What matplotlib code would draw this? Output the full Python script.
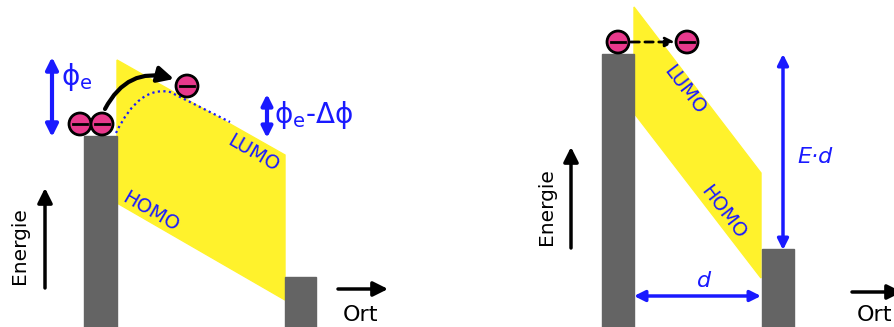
import matplotlib.pyplot as plt
import numpy as np
from matplotlib.patches import Rectangle, Polygon, Circle, FancyArrowPatch, PathPatch
from matplotlib.path import Path

plt.rcParams['mathtext.fontset'] = 'dejavusans'
plt.rcParams['mathtext.default'] = 'regular'

# farben
GRAU = '#646464'
GELB = '#fff22c'
PINK = '#e8398c'
BLAU = '#1a1aff'

# linkes bild (pixel-koordinaten, y nach unten)
links_metall = [84, 117, 136]        # x0, x1, oberkante
rechts_metall = [285, 316, 277]
band_links = [(117, 60), (285, 155), (285, 300), (117, 203)]
elektronen_links = [(80, 124), (102, 124), (187, 86)]

# rechtes bild
links_metall2 = [602, 634, 54]
rechts_metall2 = [762, 794, 249]
band_rechts = [(634, 7), (761, 173), (761, 278), (634, 113)]
elektronen_rechts = [(618, 42), (687, 42)]

fig = plt.figure(figsize=(8.95, 3.27), dpi=100)
ax = fig.add_axes([0, 0, 1, 1])
ax.set_xlim(0, 895)
ax.set_ylim(327, 0)
ax.axis('off')


def metall(m):
    ax.add_patch(Rectangle((m[0], m[2]), m[1] - m[0], 327 - m[2], color=GRAU, zorder=2))


def elektron(x, y, r=11):
    ax.add_patch(Circle((x, y), r, facecolor=PINK, edgecolor='black', lw=2, zorder=5))
    ax.plot([x - 0.6 * r, x + 0.6 * r], [y, y], color='black', lw=2, zorder=6)


def pfeil(p0, p1, farbe, stil='-|>', lw=2.5, ms=16, **kw):
    ax.add_patch(FancyArrowPatch(p0, p1, arrowstyle=stil, color=farbe, lw=lw,
                                 mutation_scale=ms, shrinkA=0, shrinkB=0, zorder=4, **kw))


# ---- links ----
ax.add_patch(Polygon(band_links, closed=True, color=GELB, zorder=1))
metall(links_metall)
metall(rechts_metall)

# gepunktete barriere
pfad = Path([(116, 133), (132, 100), (150, 88), (170, 92), (230, 122)],
            [Path.MOVETO, Path.CURVE4, Path.CURVE4, Path.CURVE4, Path.LINETO])
ax.add_patch(PathPatch(pfad, fill=False, edgecolor=BLAU, lw=1.6, ls=(0, (1, 1.5)), zorder=3))

for (x, y) in elektronen_links:
    elektron(x, y)

pfeil((105, 109), (174, 79), 'black', lw=3, ms=24, connectionstyle='arc3,rad=-0.4')

pfeil((52, 57), (52, 137), BLAU, stil='<|-|>', lw=3, ms=18)
ax.text(61, 77, '$ϕ_e$', color=BLAU, fontsize=20, va='center', ha='left')

pfeil((267, 94), (267, 138), BLAU, stil='<|-|>', lw=3, ms=16)
ax.text(274, 115, '$ϕ_e$-Δϕ', color=BLAU, fontsize=20, va='center', ha='left')

ax.text(253, 153, 'LUMO', color=BLAU, fontsize=14, rotation=-30,
        ha='center', va='center', rotation_mode='anchor')
ax.text(151, 212, 'HOMO', color=BLAU, fontsize=14, rotation=-30,
        ha='center', va='center', rotation_mode='anchor')

pfeil((45, 288), (45, 188), 'black', lw=2.5, ms=22)
ax.text(20, 246, 'Energie', fontsize=14.5, rotation=90, ha='center', va='center')
pfeil((338, 289), (388, 289), 'black', lw=2.5, ms=22)
ax.text(361, 315, 'Ort', fontsize=16, ha='center', va='center')

# ---- rechts ----
ax.add_patch(Polygon(band_rechts, closed=True, color=GELB, zorder=1))
metall(links_metall2)
metall(rechts_metall2)

for (x, y) in elektronen_rechts:
    elektron(x, y)
pfeil((631, 42), (675, 42), 'black', lw=2, ms=14, linestyle=(0, (3, 2)))

ax.text(685, 90, 'LUMO', color=BLAU, fontsize=14, rotation=-52.6,
        ha='center', va='center', rotation_mode='anchor')
ax.text(723, 212, 'HOMO', color=BLAU, fontsize=14, rotation=-52.6,
        ha='center', va='center', rotation_mode='anchor')

pfeil((783, 54), (783, 250), BLAU, stil='<|-|>', lw=2.5, ms=16)
ax.text(815, 157, 'E·d', color=BLAU, fontsize=16, style='italic', ha='center', va='center')

pfeil((634, 296), (761, 296), BLAU, stil='<|-|>', lw=2.5, ms=16)
ax.text(704, 281, 'd', color=BLAU, fontsize=16, style='italic', ha='center', va='center')

pfeil((571, 248), (571, 147), 'black', lw=2.5, ms=22)
ax.text(547, 207, 'Energie', fontsize=14.5, rotation=90, ha='center', va='center')
pfeil((852, 292), (902, 292), 'black', lw=2.5, ms=22, clip_on=True)
ax.text(857, 315, 'Ort', fontsize=16, ha='left', va='center')

fig.savefig('out.png', dpi=100)
